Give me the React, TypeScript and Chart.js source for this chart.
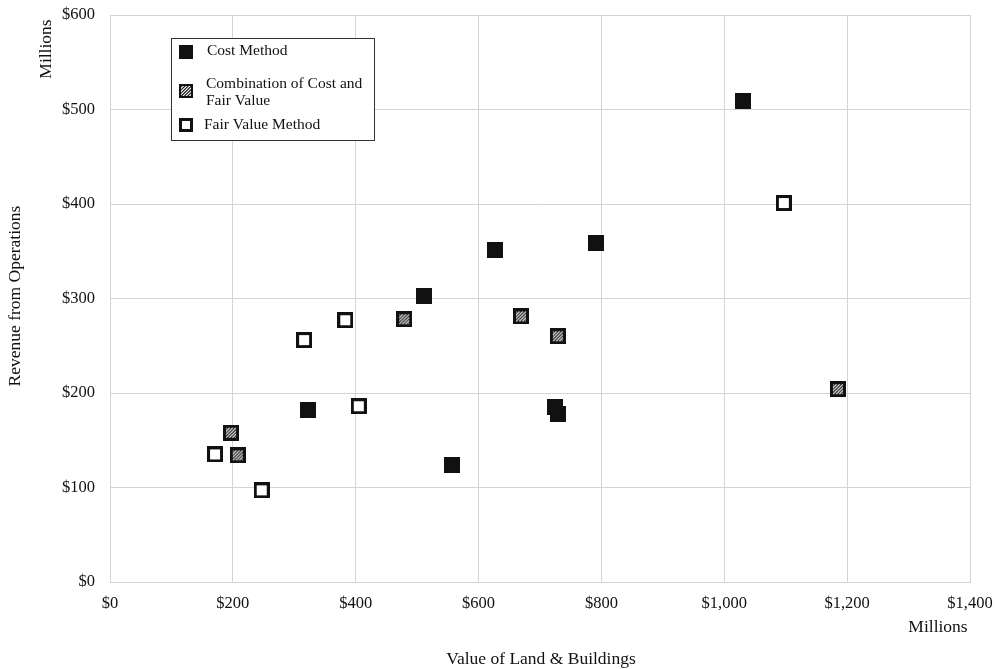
import { useEffect, useRef } from "react";
import { Chart, registerables } from "chart.js";
Chart.register(...registerables);

const costX = [1030, 791, 627, 511, 322, 557, 724, 729];
const costY = [509, 359, 351, 303, 182, 124, 185, 178];
const comboX = [197, 208, 479, 669, 729, 1185];
const comboY = [158, 134, 278, 281, 260, 204];
const fairX = [1097, 383, 316, 405, 171, 247];
const fairY = [401, 277, 256, 186, 135, 97];
const seriesNames = ["Cost Method", "Combination of Cost and Fair Value", "Fair Value Method"];
const xTitle = "Value of Land & Buildings";
const yTitle = "Revenue from Operations";
const unitLabel = "Millions";

const FONT = "'Liberation Serif', 'Times New Roman', serif";

function makeMarker(kind: string, size: number): HTMLCanvasElement {
  const c = document.createElement("canvas");
  c.width = size;
  c.height = size;
  const ctx = c.getContext("2d")!;
  ctx.fillStyle = "#111";
  ctx.fillRect(0, 0, size, size);
  if (kind === "hollow") {
    const b = Math.max(2, Math.round(size * 0.19));
    ctx.fillStyle = "#fff";
    ctx.fillRect(b, b, size - 2 * b, size - 2 * b);
  } else if (kind === "hatch") {
    const b = Math.max(2, Math.round(size * 0.17));
    ctx.save();
    ctx.beginPath();
    ctx.rect(b, b, size - 2 * b, size - 2 * b);
    ctx.clip();
    ctx.strokeStyle = "#ffffff";
    ctx.lineWidth = 1.1;
    for (let k = -size; k < 2 * size; k += 3.2) {
      ctx.beginPath();
      ctx.moveTo(k, size);
      ctx.lineTo(k + size, 0);
      ctx.stroke();
    }
    ctx.restore();
  }
  return c;
}

function toPoints(xs: number[], ys: number[]) {
  return xs.map((x, i) => ({ x, y: ys[i] }));
}

export default function App() {
  const ref = useRef<HTMLCanvasElement | null>(null);
  useEffect(() => {
    document.body.style.margin = "0";
    const markers = {
      solid: makeMarker("solid", 16),
      hatch: makeMarker("hatch", 16),
      hollow: makeMarker("hollow", 16),
    };
    const legendMarkers = {
      solid: makeMarker("solid", 14),
      hatch: makeMarker("hatch", 14),
      hollow: makeMarker("hollow", 14),
    };
    const decor = {
      id: "decor",
      afterDraw(chart: any) {
        const ctx = chart.ctx as CanvasRenderingContext2D;
        const a = chart.chartArea;
        ctx.save();
        ctx.strokeStyle = "#d4d4d4";
        ctx.lineWidth = 1;
        ctx.beginPath();
        ctx.moveTo(a.left, a.top + 0.5);
        ctx.lineTo(a.right + 0.5, a.top + 0.5);
        ctx.lineTo(a.right + 0.5, a.bottom);
        ctx.stroke();
        // axis titles
        ctx.fillStyle = "#111";
        ctx.font = `17.5px ${FONT}`;
        ctx.textAlign = "center";
        ctx.textBaseline = "middle";
        ctx.fillText(xTitle, 541, 659);
        ctx.fillText(unitLabel, 938, 627);
        ctx.save();
        ctx.translate(15, 296);
        ctx.rotate(-Math.PI / 2);
        ctx.fillText(yTitle, 0, 0);
        ctx.restore();
        ctx.save();
        ctx.translate(46, 49);
        ctx.rotate(-Math.PI / 2);
        ctx.fillText(unitLabel, 0, 0);
        ctx.restore();
        // legend
        ctx.fillStyle = "#fff";
        ctx.fillRect(171, 38, 203, 102);
        ctx.strokeStyle = "#333";
        ctx.strokeRect(171.5, 38.5, 203, 102);
        const lm = [legendMarkers.solid, legendMarkers.hatch, legendMarkers.hollow];
        const my = [52, 91, 125];
        lm.forEach((m, i) => ctx.drawImage(m, 186 - 7, my[i] - 7));
        ctx.fillStyle = "#111";
        ctx.font = `15.5px ${FONT}`;
        ctx.textAlign = "left";
        ctx.fillText(seriesNames[0], 207, 51);
        ctx.fillText("Combination of Cost and", 206, 84);
        ctx.fillText("Fair Value", 206, 101);
        ctx.fillText(seriesNames[2], 204, 125);
        ctx.restore();
      },
    };
    const chart = new Chart(ref.current!, {
      type: "scatter",
      data: {
        datasets: [
          { label: seriesNames[0], data: toPoints(costX, costY), pointStyle: markers.solid as any, pointRadius: 8 },
          { label: seriesNames[1], data: toPoints(comboX, comboY), pointStyle: markers.hatch as any, pointRadius: 8 },
          { label: seriesNames[2], data: toPoints(fairX, fairY), pointStyle: markers.hollow as any, pointRadius: 8 },
        ],
      },
      options: {
        animation: false,
        responsive: false,
        devicePixelRatio: 1,
        layout: { padding: { left: 0, right: 32, top: 15, bottom: 0 } },
        plugins: { legend: { display: false }, tooltip: { enabled: false } },
        scales: {
          x: {
            type: "linear",
            min: 0,
            max: 1400,
            afterFit: (s: any) => { s.height = 87; s.paddingLeft = 0; s.paddingRight = 0; },
            grid: { color: "#d4d4d4", drawTicks: false },
            border: { color: "#d4d4d4" },
            ticks: {
              stepSize: 200,
              padding: 12,
              color: "#111",
              font: { family: FONT, size: 16.5 },
              callback: (v: any) => "$" + Number(v).toLocaleString("en-US"),
            },
          },
          y: {
            type: "linear",
            min: 0,
            max: 600,
            afterFit: (s: any) => { s.width = 110; s.paddingTop = 0; s.paddingBottom = 0; },
            grid: { color: "#d4d4d4", drawTicks: false },
            border: { color: "#d4d4d4" },
            ticks: {
              stepSize: 100,
              padding: 15,
              color: "#111",
              font: { family: FONT, size: 16.5 },
              callback: (v: any) => "$" + Number(v).toLocaleString("en-US"),
            },
          },
        },
      },
      plugins: [decor],
    });
    return () => chart.destroy();
  }, []);
  return (
    <div style={{ width: 1002, height: 669, background: "#fff" }}>
      <canvas ref={ref} width={1002} height={669} />
    </div>
  );
}
